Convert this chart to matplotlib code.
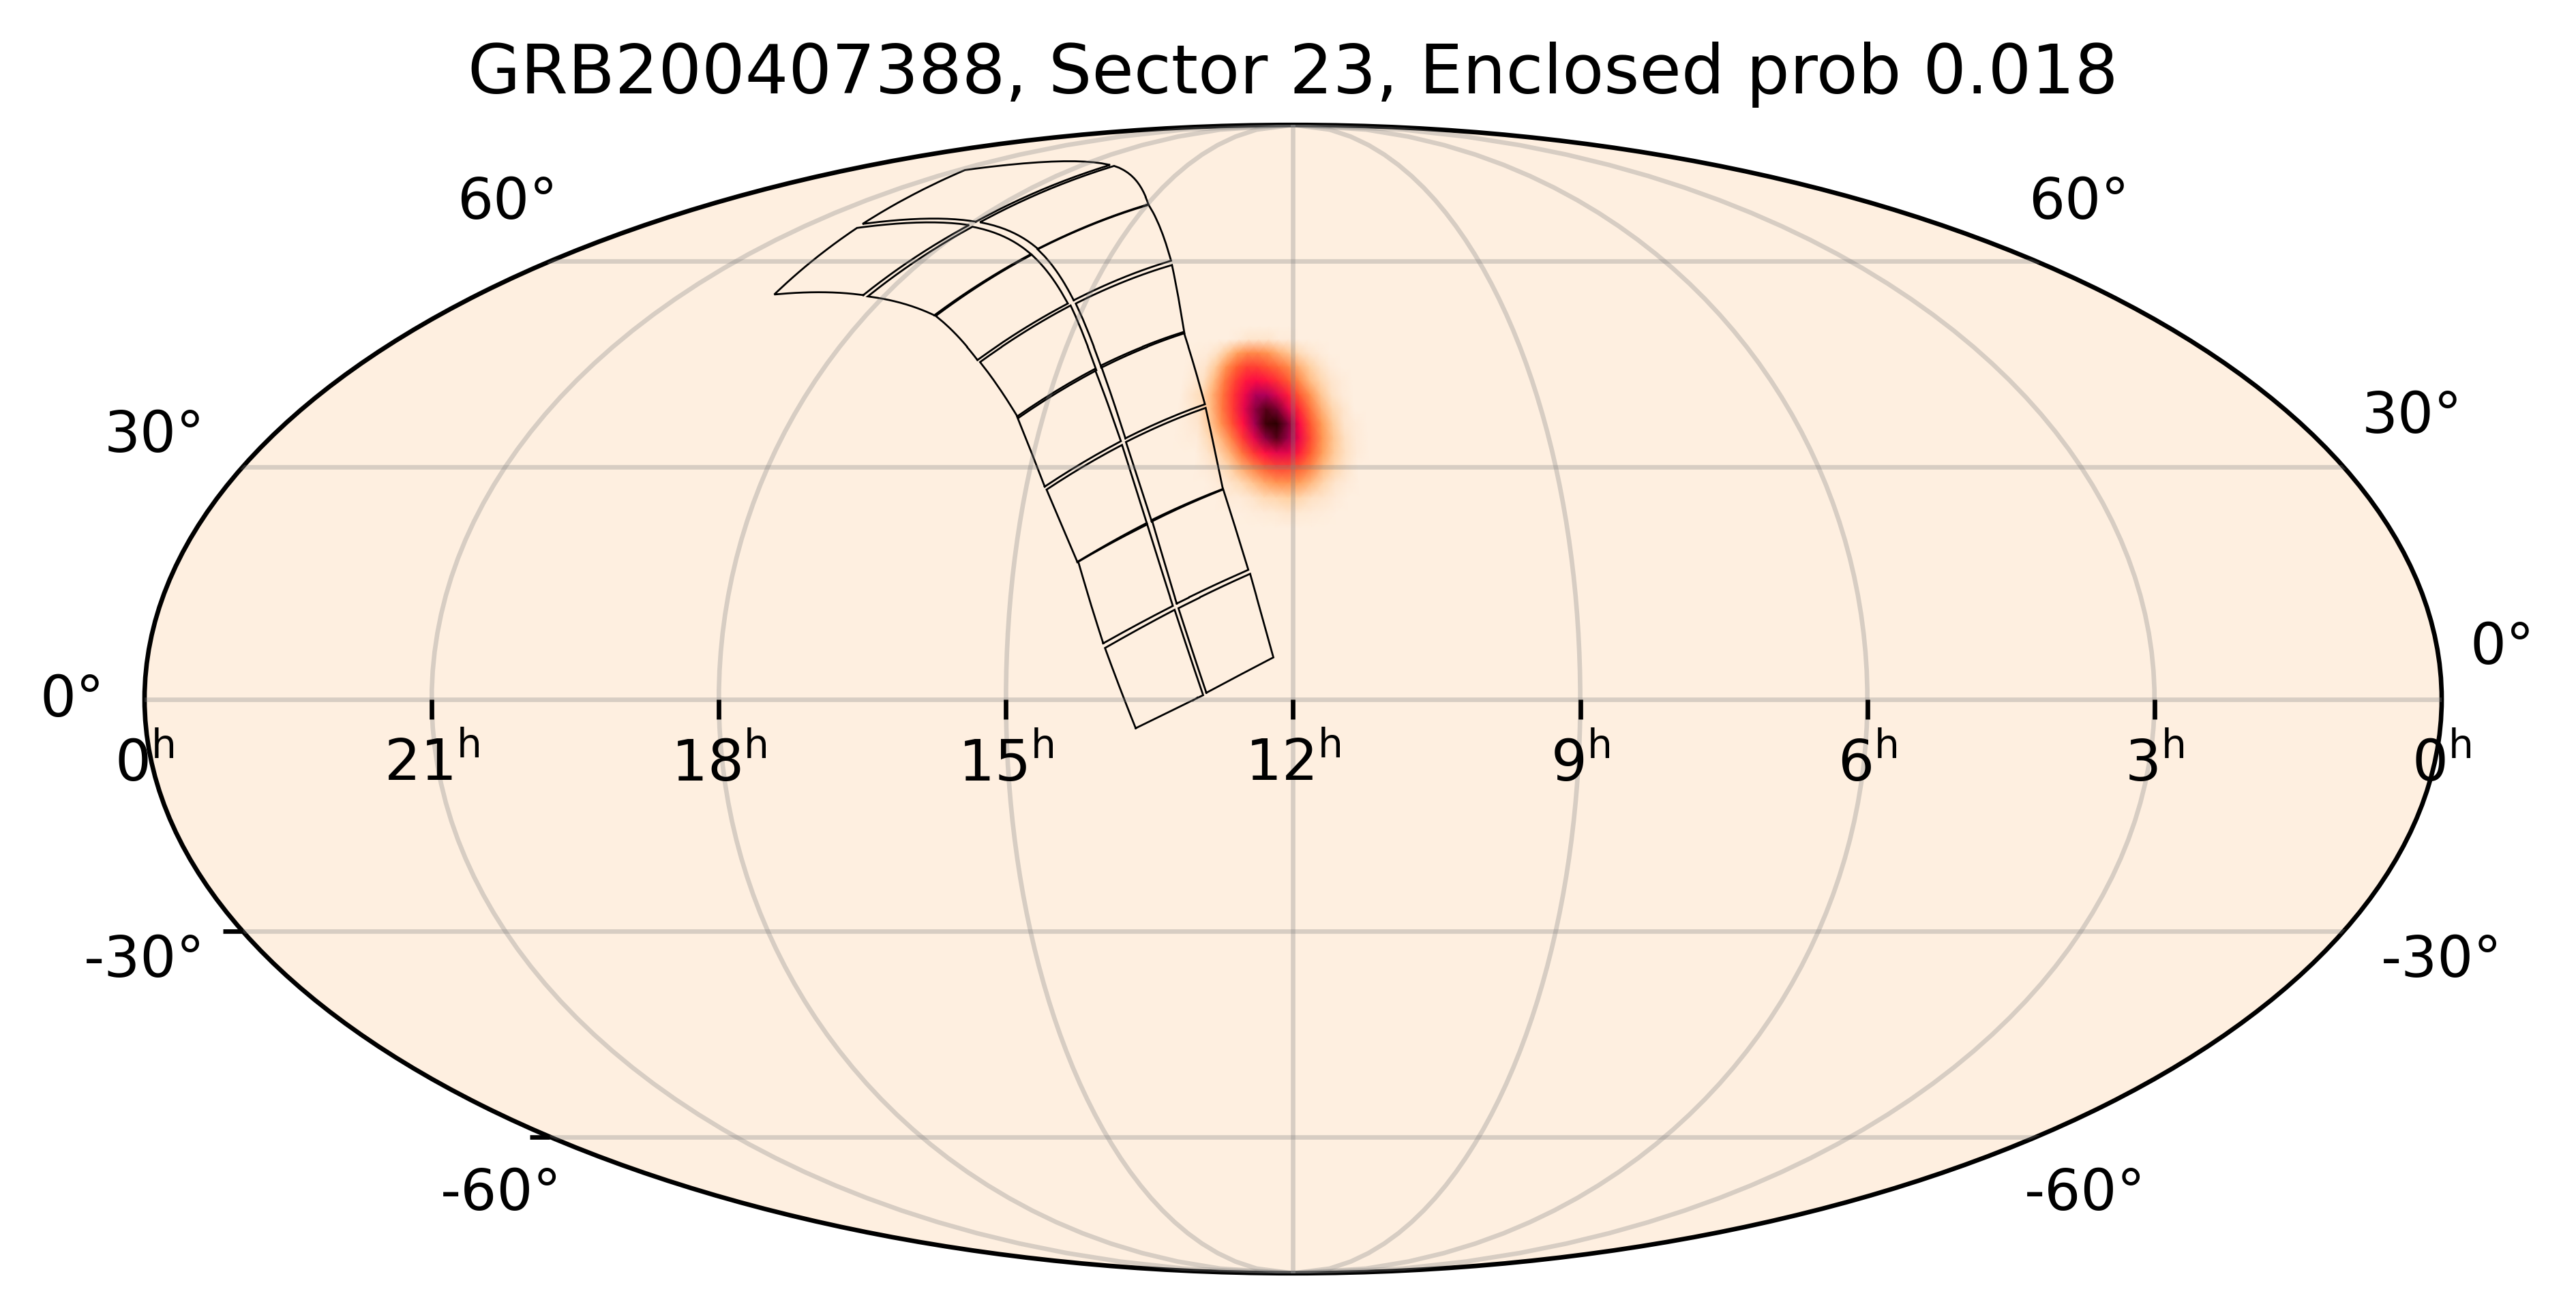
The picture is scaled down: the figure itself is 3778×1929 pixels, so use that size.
"""
Sky map of a GRB localisation with the TESS Sector 23 footprint on top.
"""

import numpy as np
import matplotlib
matplotlib.use('Agg')
import matplotlib.pyplot as plt
from matplotlib.colors import LinearSegmentedColormap
from matplotlib.markers import TICKDOWN, TICKLEFT

title = 'GRB200407388, Sector 23, Enclosed prob 0.018'

# CCD corners, RA and Dec in degrees
ccd_ra = [
    [204.7, 194.1, 198.8, 209.6],
    [193.6, 183.1, 186.9, 198.2],
    [209.9, 199.1, 204.1, 214.7],
    [198.5, 187.2, 191.8, 203.3],
    [214.8, 204.0, 209.9, 221.5],
    [203.3, 191.8, 195.9, 209.3],
    [221.9, 210.2, 218.0, 229.7],
    [209.5, 196.1, 202.3, 217.0],
    [229.4, 217.6, 227.9, 240.6],
    [216.8, 202.1, 209.0, 227.0],
    [241.3, 228.7, 244.7, 255.2],
    [227.8, 209.6, 224.5, 244.4],
    [255.6, 245.0, 268.4, 273.5],
    [244.5, 224.7, 255.6, 268.1],
    [274.8, 270.0, 299.6, 294.6],
    [269.5, 258.2, 312.4, 300.2],
]
ccd_dec = [
    [-3.7, 0.5, 11.4, 6.5],
    [0.8, 5.3, 16.0, 11.6],
    [7.1, 11.9, 22.6, 17.6],
    [12.2, 16.5, 27.1, 23.0],
    [17.5, 22.4, 33.0, 27.0],
    [22.8, 27.0, 38.1, 33.4],
    [27.4, 33.5, 43.6, 36.9],
    [33.9, 38.6, 49.0, 44.1],
    [36.7, 43.4, 53.0, 44.6],
    [43.8, 48.8, 59.4, 53.3],
    [44.9, 53.3, 61.1, 51.4],
    [53.8, 60.1, 69.9, 62.0],
    [51.5, 61.2, 65.9, 54.4],
    [62.1, 70.0, 77.8, 66.7],
    [54.6, 66.2, 65.7, 54.7],
    [66.8, 78.0, 76.9, 66.4],
]

# Localisation map, relative probability
prob_ra = [200.9, 198.9, 196.9, 194.9, 192.9, 190.9, 188.9, 186.9, 184.9, 182.9,
           180.9, 178.9, 176.9, 174.9, 172.9, 170.9, 168.9, 166.9]
prob_dec = [49.9, 47.9, 45.9, 43.9, 41.9, 39.9, 37.9, 35.9, 33.9, 31.9, 29.9, 27.9, 25.9, 23.9, 21.9]
prob = [
    [0, 0, 0, 0, 0, 0, 0, 0, 0, 0, 0, 0, 0, 0, 0, 0, 0, 0],
    [0, 0, 0, 0, 0, .01, .02, .02, .02, .01, .01, 0, 0, 0, 0, 0, 0, 0],
    [0, .005, .01, .03, .08, .15, .2, .2, .17, .12, .08, .04, .02, .01, 0, 0, 0, 0],
    [0, .01, .02, .07, .18, .3, .38, .38, .33, .27, .2, .12, .06, .03, .01, 0, 0, 0],
    [0, .015, .03, .1, .24, .38, .5, .55, .5, .42, .32, .2, .1, .05, .02, .01, 0, 0],
    [0, .02, .04, .12, .26, .42, .58, .72, .72, .62, .48, .32, .18, .08, .03, .01, 0, 0],
    [0, .015, .03, .1, .24, .4, .6, .78, .88, .82, .62, .44, .25, .12, .05, .02, 0, 0],
    [0, .01, .02, .07, .18, .34, .52, .74, .93, 1.0, .8, .55, .32, .16, .07, .02, .01, 0],
    [0, .005, .01, .04, .1, .22, .4, .6, .78, .88, .76, .58, .35, .17, .08, .03, .01, 0],
    [0, 0, 0, .02, .05, .12, .25, .4, .52, .6, .6, .48, .3, .15, .07, .03, .01, 0],
    [0, 0, 0, .01, .02, .05, .12, .2, .3, .36, .36, .3, .2, .1, .05, .02, 0, 0],
    [0, 0, 0, 0, .01, .02, .04, .08, .13, .17, .18, .15, .1, .05, .02, .01, 0, 0],
    [0, 0, 0, 0, 0, .01, .01, .02, .04, .05, .06, .05, .03, .02, .01, 0, 0, 0],
    [0, 0, 0, 0, 0, 0, 0, .005, .01, .015, .02, .015, .01, .005, 0, 0, 0, 0],
    [0, 0, 0, 0, 0, 0, 0, 0, 0, 0, 0, 0, 0, 0, 0, 0, 0, 0],
]

ra_hours = [24, 21, 18, 15, 12, 9, 6, 3, 0]
ra_tick_hours = [21, 18, 15, 12, 9, 6, 3]
dec_tick_deg = [-30, -60]

# Declination labels sit off the ellipse, (text, x px, y px) in the image
dec_labels = [
    ('0°', 106, 1027), ('30°', 227, 640), ('60°', 744, 297),
    ('-30°', 212, 1410), ('-60°', 735, 1752),
    ('0°', 3670, 950), ('30°', 3538, 612), ('60°', 3049, 297),
    ('-30°', 3581, 1410), ('-60°', 3058, 1752),
]


def ra_to_lon(ra_deg):
    """RA runs right to left with 12h in the middle."""
    return np.radians(180.0 - np.asarray(ra_deg, dtype=float))


def ccd_outline(ra, dec, steps=12):
    """Closed CCD outline, each side following the great circle between its corners."""
    lon = ra_to_lon(ra)
    lat = np.radians(dec)
    corners = np.column_stack([np.cos(lat) * np.cos(lon), np.cos(lat) * np.sin(lon), np.sin(lat)])
    sides = []
    for i in range(4):
        t = np.linspace(0, 1, steps, endpoint=False)[:, None]
        side = (1 - t) * corners[i] + t * corners[(i + 1) % 4]
        sides.append(side / np.linalg.norm(side, axis=1, keepdims=True))
    xyz = np.vstack(sides + [corners[:1]])
    return np.arctan2(xyz[:, 1], xyz[:, 0]), np.arcsin(xyz[:, 2])


W, H = 3779, 1929
fig = plt.figure(figsize=(W / 600, H / 600), dpi=600)
ax = fig.add_axes([212 / W, 1 - 1868 / H, 3369 / W, 1685 / H], projection='mollweide')

cmap = LinearSegmentedColormap.from_list('prob', [
    (0.00, '#FEEFE0'), (0.015, '#FEE8D2'), (0.06, '#FFCFA0'), (0.16, '#FF9A55'),
    (0.30, '#FF6030'), (0.44, '#FF2A35'), (0.54, '#FF0A45'), (0.72, '#B0005A'),
    (0.92, '#400008'), (1.00, '#2A0000'),
])
ax.set_facecolor(cmap(0.0))

lon_mesh, lat_mesh = np.meshgrid(ra_to_lon(prob_ra), np.radians(prob_dec))
ax.pcolormesh(lon_mesh, lat_mesh, np.array(prob), cmap=cmap, vmin=0, vmax=1,
              shading='gouraud', zorder=1)

# CCD outlines
for ra, dec in zip(ccd_ra, ccd_dec):
    lon, lat = ccd_outline(ra, dec)
    ax.plot(lon, lat, color='black', linewidth=0.33, solid_joinstyle='miter', zorder=2)

# Grid goes over the map and the outlines, and runs up to the poles
ax.set_longitude_grid(45)
ax.set_latitude_grid(30)
ax.set_longitude_grid_ends(90)
ax.set_axisbelow(False)
ax.grid(True, color='gray', alpha=0.3, linewidth=0.8)
ax.set_xticklabels([])
ax.set_yticklabels([])

# Ticks hang off the equator and the left edge
ax.plot(ra_to_lon([h * 15 for h in ra_tick_hours]), np.zeros(len(ra_tick_hours)),
        linestyle='none', marker=TICKDOWN, markersize=3.5, markeredgewidth=0.8,
        color='black', clip_on=False, zorder=3)
ax.plot(np.full(len(dec_tick_deg), -np.pi), np.radians(dec_tick_deg),
        linestyle='none', marker=TICKLEFT, markersize=3.5, markeredgewidth=0.8,
        color='black', clip_on=False, zorder=3)

for h in ra_hours:
    ax.annotate(rf'${h % 24}^{{\mathrm{{h}}}}$', (ra_to_lon(h * 15), 0), xytext=(0, -11.5),
                textcoords='offset points', ha='center', va='center', fontsize=10,
                annotation_clip=False, zorder=4)

for text, x, y in dec_labels:
    fig.text(x / W, 1 - y / H, text, ha='center', va='center', fontsize=10)

fig.text(1896 / W, 1 - 109 / H, title, ha='center', va='center', fontsize=12)

fig.savefig('out.png', dpi=600)
